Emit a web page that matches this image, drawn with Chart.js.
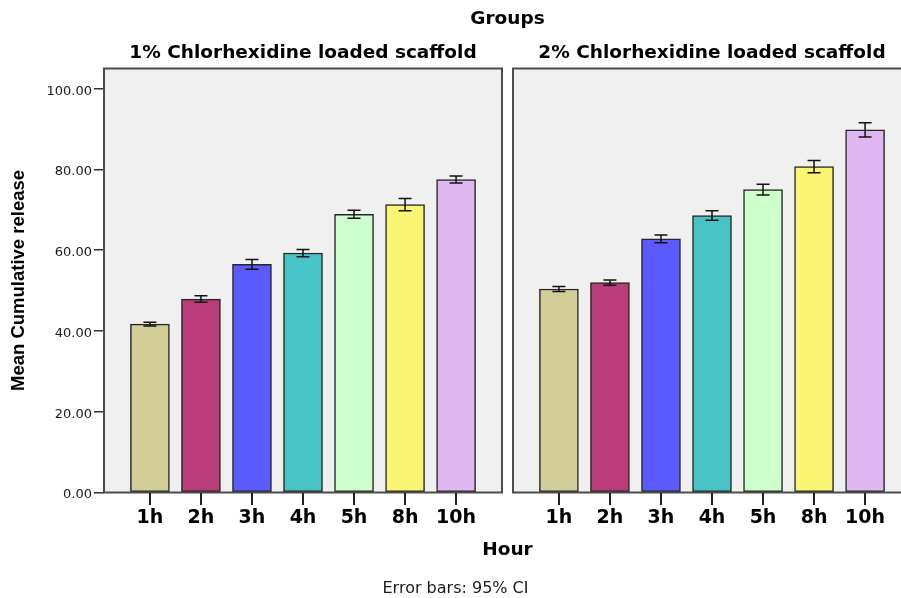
<!DOCTYPE html>
<html>
<head>
<meta charset="utf-8">
<script src="https://cdn.jsdelivr.net/npm/chart.js@4.4.1/dist/chart.umd.min.js"></script>
<style>
  html, body { margin: 0; padding: 0; background: #fff; overflow: hidden; }
  #wrap { position: relative; width: 912px; height: 598px; }
</style>
</head>
<body>
<div id="wrap"><canvas id="c" width="912" height="598"></canvas></div>
<script>
// Release time points and the two scaffold groups
const hours = ['1h', '2h', '3h', '4h', '5h', '8h', '10h'];
const groups = ['1% Chlorhexidine loaded scaffold', '2% Chlorhexidine loaded scaffold'];

// Mean cumulative release (%) and 95% CI half-widths
const releaseOnePct = [41.7, 47.9, 56.5, 59.3, 68.9, 71.3, 77.5];
const ciOnePct      = [0.45, 0.8, 1.2, 0.9, 1.0, 1.5, 0.85];
const releaseTwoPct = [50.4, 52.0, 62.8, 68.6, 75.0, 80.7, 89.8];
const ciTwoPct      = [0.6, 0.65, 0.95, 1.2, 1.35, 1.5, 1.75];

const hourColors = ['#d3ce97', '#b93d78', '#5a5aff', '#48c3c6', '#ccffcc', '#faf674', '#dfb8f2'];
const yTicks = [0, 20, 40, 60, 80, 100];

const series = [releaseOnePct, releaseTwoPct];
const intervals = [ciOnePct, ciTwoPct];

// Both panels share one linear x scale; each panel is a block of category slots
const EDGE = 0.9;     // slot distance from panel border to outer bar centre
const GAP = 0.2156;   // blank space between the two panels
const SPAN = hours.length - 1 + 2 * EDGE;
const panelOffset = p => p * (SPAN + GAP);
const panelRange = p => [panelOffset(p) - EDGE, panelOffset(p) + hours.length - 1 + EDGE];

const xTickValues = [];
groups.forEach((g, p) => hours.forEach((h, i) => xTickValues.push(panelOffset(p) + i)));

Chart.defaults.font.family = "'DejaVu Sans', sans-serif";
Chart.defaults.color = '#1a1a1a';

const panelPlugin = {
  id: 'panels',
  beforeDatasetsDraw(chart) {
    const { ctx, chartArea: a, scales: { x } } = chart;
    ctx.save();
    ctx.fillStyle = '#f0f0f0';
    groups.forEach((g, p) => {
      const [lo, hi] = panelRange(p);
      const l = x.getPixelForValue(lo), r = x.getPixelForValue(hi);
      ctx.fillRect(l, a.top, r - l, a.bottom - a.top);
    });
    ctx.restore();
  },
  afterDatasetsDraw(chart) {
    const { ctx, chartArea: a, scales: { x, y } } = chart;
    ctx.save();
    // error bars
    ctx.strokeStyle = '#111';
    ctx.lineWidth = 1.5;
    chart.data.datasets.forEach((ds, p) => {
      chart.getDatasetMeta(p).data.forEach((bar, i) => {
        const v = series[p][i], e = intervals[p][i];
        const t = y.getPixelForValue(v + e), b = y.getPixelForValue(v - e);
        const cx = bar.x, hw = 6.5;
        ctx.beginPath();
        ctx.moveTo(cx, t); ctx.lineTo(cx, b);
        ctx.moveTo(cx - hw, t); ctx.lineTo(cx + hw, t);
        ctx.moveTo(cx - hw, b); ctx.lineTo(cx + hw, b);
        ctx.stroke();
      });
    });
    // panel frames and panel headings
    ctx.strokeStyle = '#4d4d4d';
    ctx.lineWidth = 2;
    ctx.fillStyle = '#000';
    ctx.font = "bold 18.5px 'DejaVu Sans', sans-serif";
    ctx.textAlign = 'center';
    ctx.textBaseline = 'middle';
    groups.forEach((g, p) => {
      const [lo, hi] = panelRange(p);
      const l = x.getPixelForValue(lo), r = x.getPixelForValue(hi);
      ctx.strokeRect(l, a.top, r - l, a.bottom - a.top);
      ctx.fillText(g, (l + r) / 2, a.top - 15.5);
    });
    ctx.restore();
  },
  afterDraw(chart) {
    // category tick marks under each panel
    const { ctx, chartArea: a, scales: { x } } = chart;
    ctx.save();
    ctx.fillStyle = '#222';
    xTickValues.forEach(v => {
      const px = Math.round(x.getPixelForValue(v));
      ctx.fillRect(px - 1, Math.round(a.bottom), 2, 12);
    });
    ctx.restore();
  }
};

new Chart(document.getElementById('c'), {
  type: 'bar',
  data: {
    datasets: series.map((vals, p) => ({
      label: groups[p],
      data: vals.map((v, i) => ({ x: panelOffset(p) + i, y: v })),
      backgroundColor: hourColors,
      borderColor: '#262626',
      borderWidth: 1.5,
      borderSkipped: false,
      barThickness: 39,
      grouped: false
    }))
  },
  options: {
    responsive: false,
    animation: false,
    layout: { padding: { left: 0, right: 1, top: 0, bottom: 0 } },
    plugins: {
      legend: { display: false },
      tooltip: { enabled: false },
      title: {
        display: true,
        text: 'Groups',
        fullSize: false,
        color: '#000',
        font: { size: 18.5, weight: 'bold' },
        padding: { top: 8.2, bottom: 38.1 }
      },
      subtitle: {
        display: true,
        text: 'Error bars: 95% CI',
        position: 'bottom',
        color: '#1a1a1a',
        font: { size: 16, weight: 'normal' },
        padding: { top: 6, bottom: 0 }
      }
    },
    scales: {
      x: {
        type: 'linear',
        offset: false,
        min: -EDGE,
        max: panelRange(1)[1],
        afterBuildTicks(scale) { scale.ticks = xTickValues.map(v => ({ value: v })); },
        afterFit(scale) { scale.height = 80.3; },
        ticks: {
          autoSkip: false,
          maxRotation: 0,
          padding: 14,
          color: '#000',
          font: { size: 19, weight: 'bold' },
          callback: (v, i) => hours[i % hours.length]
        },
        grid: { display: false, drawTicks: false },
        border: { display: false },
        title: {
          display: true,
          text: 'Hour',
          color: '#000',
          font: { size: 18.5, weight: 'bold' },
          padding: { top: 0, bottom: 11.4 }
        }
      },
      y: {
        min: 0,
        max: 105,
        afterBuildTicks(scale) { scale.ticks = yTicks.map(v => ({ value: v })); },
        afterFit(scale) { scale.width = 104; },
        ticks: {
          padding: 2,
          labelOffset: 2.5,
          color: '#1a1a1a',
          font: { size: 13 },
          callback: v => Number(v).toFixed(2)
        },
        grid: { drawOnChartArea: false, drawTicks: true, tickLength: 10, color: '#333', lineWidth: 1.5 },
        border: { display: false },
        title: {
          display: true,
          text: 'Mean Cumulative release',
          color: '#000',
          font: { family: "'Liberation Sans', Arial, sans-serif", size: 18.5, weight: 'bold' },
          padding: { top: 8, bottom: 0 }
        }
      }
    }
  },
  plugins: [panelPlugin]
});
</script>
</body>
</html>
